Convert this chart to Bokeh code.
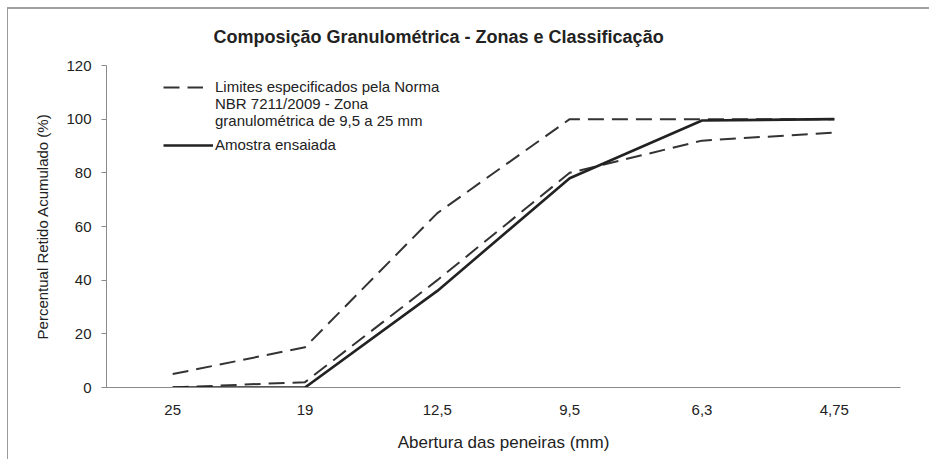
from bokeh.plotting import figure
from bokeh.models import (FactorRange, Range1d, Legend, LegendItem, Title,
                          FixedTicker, ColumnDataSource)
from bokeh.embed import file_html
from bokeh.resources import INLINE

# ---- data ----
sieves = ["25", "19", "12,5", "9,5", "6,3", "4,75"]
upper_limit = [5, 15, 65, 100, 100, 100]
lower_limit = [0, 2, 40, 80, 92, 95]
sample = [0, 0, 36, 78, 99.5, 100]
y_ticks = [0, 20, 40, 60, 80, 100, 120]
title_text = "Composição Granulométrica - Zonas e Classificação"
legend_lines = ["Limites especificados pela Norma",
                "NBR 7211/2009 - Zona",
                "granulométrica de 9,5 a 25 mm"]
sample_label = "Amostra ensaiada"

FONT = "Liberation Sans"
DARK = "#333333"

p = figure(frame_width=794, frame_height=322, x_range=FactorRange(*sieves),
           y_range=Range1d(0, 120), output_backend="svg",
           toolbar_location=None, min_border_left=98, min_border_right=29,
           min_border_top=56, min_border_bottom=72)
p.styles = {"margin-left": "7px", "margin-top": "7px",
            "border-left": "1px solid #9a9a9a", "border-top": "2px solid #a0a0a0"}

src = ColumnDataSource(dict(x=sieves, up=upper_limit, lo=lower_limit, s=sample))

r_up = p.line("x", "up", source=src, line_color=DARK, line_width=2,
              line_dash="16 8")
r_lo = p.line("x", "lo", source=src, line_color=DARK, line_width=2,
              line_dash="16 8")
r_s = p.line("x", "s", source=src, line_color="#222222", line_width=2.6)
# invisible placeholder for the continuation lines of the legend text
r_blank = p.line(x=[], y=[], line_alpha=0)

p.xgrid.visible = False
p.ygrid.visible = False
p.outline_line_color = None
p.background_fill_color = "white"
p.border_fill_color = "white"

# axes
p.yaxis.ticker = FixedTicker(ticks=y_ticks)
p.yaxis.minor_tick_line_color = None
p.yaxis.major_tick_out = 5
p.yaxis.major_tick_in = 0
p.yaxis.axis_line_color = "#8a8a8a"
p.yaxis.major_tick_line_color = "#8a8a8a"
p.yaxis.major_label_standoff = 10
p.yaxis.axis_label = "Percentual Retido Acumulado (%)"
p.yaxis.axis_label_standoff = 12

p.xaxis.major_tick_line_color = None
p.xaxis.minor_tick_line_color = None
p.xaxis.axis_line_color = "#8a8a8a"
p.xaxis.major_label_standoff = 11
p.xaxis.axis_label = "Abertura das peneiras (mm)"
p.xaxis.axis_label_standoff = 15

for ax in (p.xaxis, p.yaxis):
    ax.major_label_text_font = FONT
    ax.major_label_text_font_size = "15px"
    ax.major_label_text_color = "#222222"
    ax.axis_label_text_font = FONT
    ax.axis_label_text_font_style = "normal"
    ax.axis_label_text_color = "#222222"
p.xaxis.axis_label_text_font_size = "17px"
p.yaxis.axis_label_text_font_size = "15px"

# title
p.add_layout(Title(text=title_text, align="left", offset=107, standoff=34,
                   vertical_align="top", text_font=FONT,
                   text_font_size="18px", text_font_style="bold",
                   text_color="#222222"), "above")

common = dict(padding=0, margin=0, spacing=0, border_line_color=None,
              background_fill_alpha=0, label_text_font=FONT,
              label_text_font_size="15px", label_text_color="#222222",
              glyph_height=16, label_height=16)

legend1 = Legend(items=[
    LegendItem(label=legend_lines[0], renderers=[r_up]),
    LegendItem(label=legend_lines[1], renderers=[r_blank]),
    LegendItem(label=legend_lines[2], renderers=[r_blank]),
], location=(57, 258), glyph_width=40, label_standoff=12, **common)
legend2 = Legend(items=[LegendItem(label=sample_label, renderers=[r_s])],
                 location=(57, 234), glyph_width=50, label_standoff=2, **common)
p.add_layout(legend1)
p.add_layout(legend2)

open("out.html", "w").write(file_html(p, INLINE))
